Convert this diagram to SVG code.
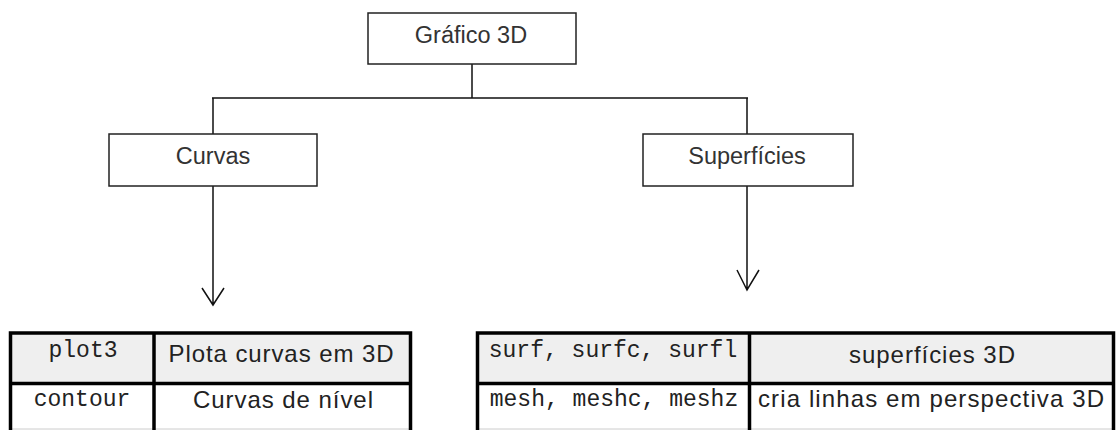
<svg xmlns="http://www.w3.org/2000/svg" width="1117" height="430" viewBox="0 0 1117 430">
<style>
.box{fill:#fff;stroke:#222;stroke-width:1.5}
.lbl{font-family:"Liberation Sans",Arial,sans-serif;font-size:23.5px;fill:#333;text-anchor:middle}
.cell{font-family:"Liberation Sans",Arial,sans-serif;font-size:24px;fill:#222;text-anchor:middle}
.mono{font-family:"Liberation Mono","Courier New",monospace;font-size:23px;fill:#222;text-anchor:middle}
.ln{fill:none;stroke:#111;stroke-width:1.5}
.tb{fill:none;stroke:#000;stroke-width:3.5}
</style>
<rect width="1117" height="430" fill="#fff"/>
<g id="connectors">
<path class="ln" d="M472 64V98M212 98H748M213 98V134M747 98V134"/>
<path class="ln" d="M213 186V305M202 288L213 305L224 288"/>
<path class="ln" d="M747 186V290M737 270L747 290L759 270"/>
</g>
<g id="grafico3d">
<rect class="box" x="368" y="13" width="208" height="51"/>
<text class="lbl" x="471" y="43">Gráfico 3D</text>
</g>
<g id="curvas">
<rect class="box" x="109" y="134" width="208" height="52"/>
<text class="lbl" x="213" y="164">Curvas</text>
</g>
<g id="superficies">
<rect class="box" x="643" y="134" width="210" height="52"/>
<text class="lbl" x="747" y="164">Superfícies</text>
</g>
<g id="tabela-curvas">
<rect x="10.5" y="333" width="400" height="50.5" fill="#efefef"/>
<line x1="10.5" y1="429" x2="410.5" y2="429" stroke="#ccc" stroke-width="1"/>
<path class="tb" d="M10.5 430V333H410.5V430M10.5 383.5H410.5M154 333V430"/>
<text class="mono" x="83" y="357">plot3</text>
<text class="cell" x="281" y="362" textLength="225" lengthAdjust="spacing">Plota curvas em 3D</text>
<text class="mono" x="82" y="406">contour</text>
<text class="cell" x="283" y="408" textLength="180" lengthAdjust="spacing">Curvas de nível</text>
</g>
<g id="tabela-superficies">
<rect x="477.5" y="333" width="636" height="50.5" fill="#efefef"/>
<line x1="477.5" y1="429" x2="1113.5" y2="429" stroke="#ccc" stroke-width="1"/>
<path class="tb" d="M477.5 430V333H1113.5V430M477.5 383.5H1113.5M749.5 333V430"/>
<text class="mono" x="613" y="357">surf, surfc, surfl</text>
<text class="cell" x="932" y="363" textLength="166" lengthAdjust="spacing">superfícies 3D</text>
<text class="mono" x="614" y="406">mesh, meshc, meshz</text>
<text class="cell" x="931" y="407" textLength="346" lengthAdjust="spacing">cria linhas em perspectiva 3D</text>
</g>
</svg>
